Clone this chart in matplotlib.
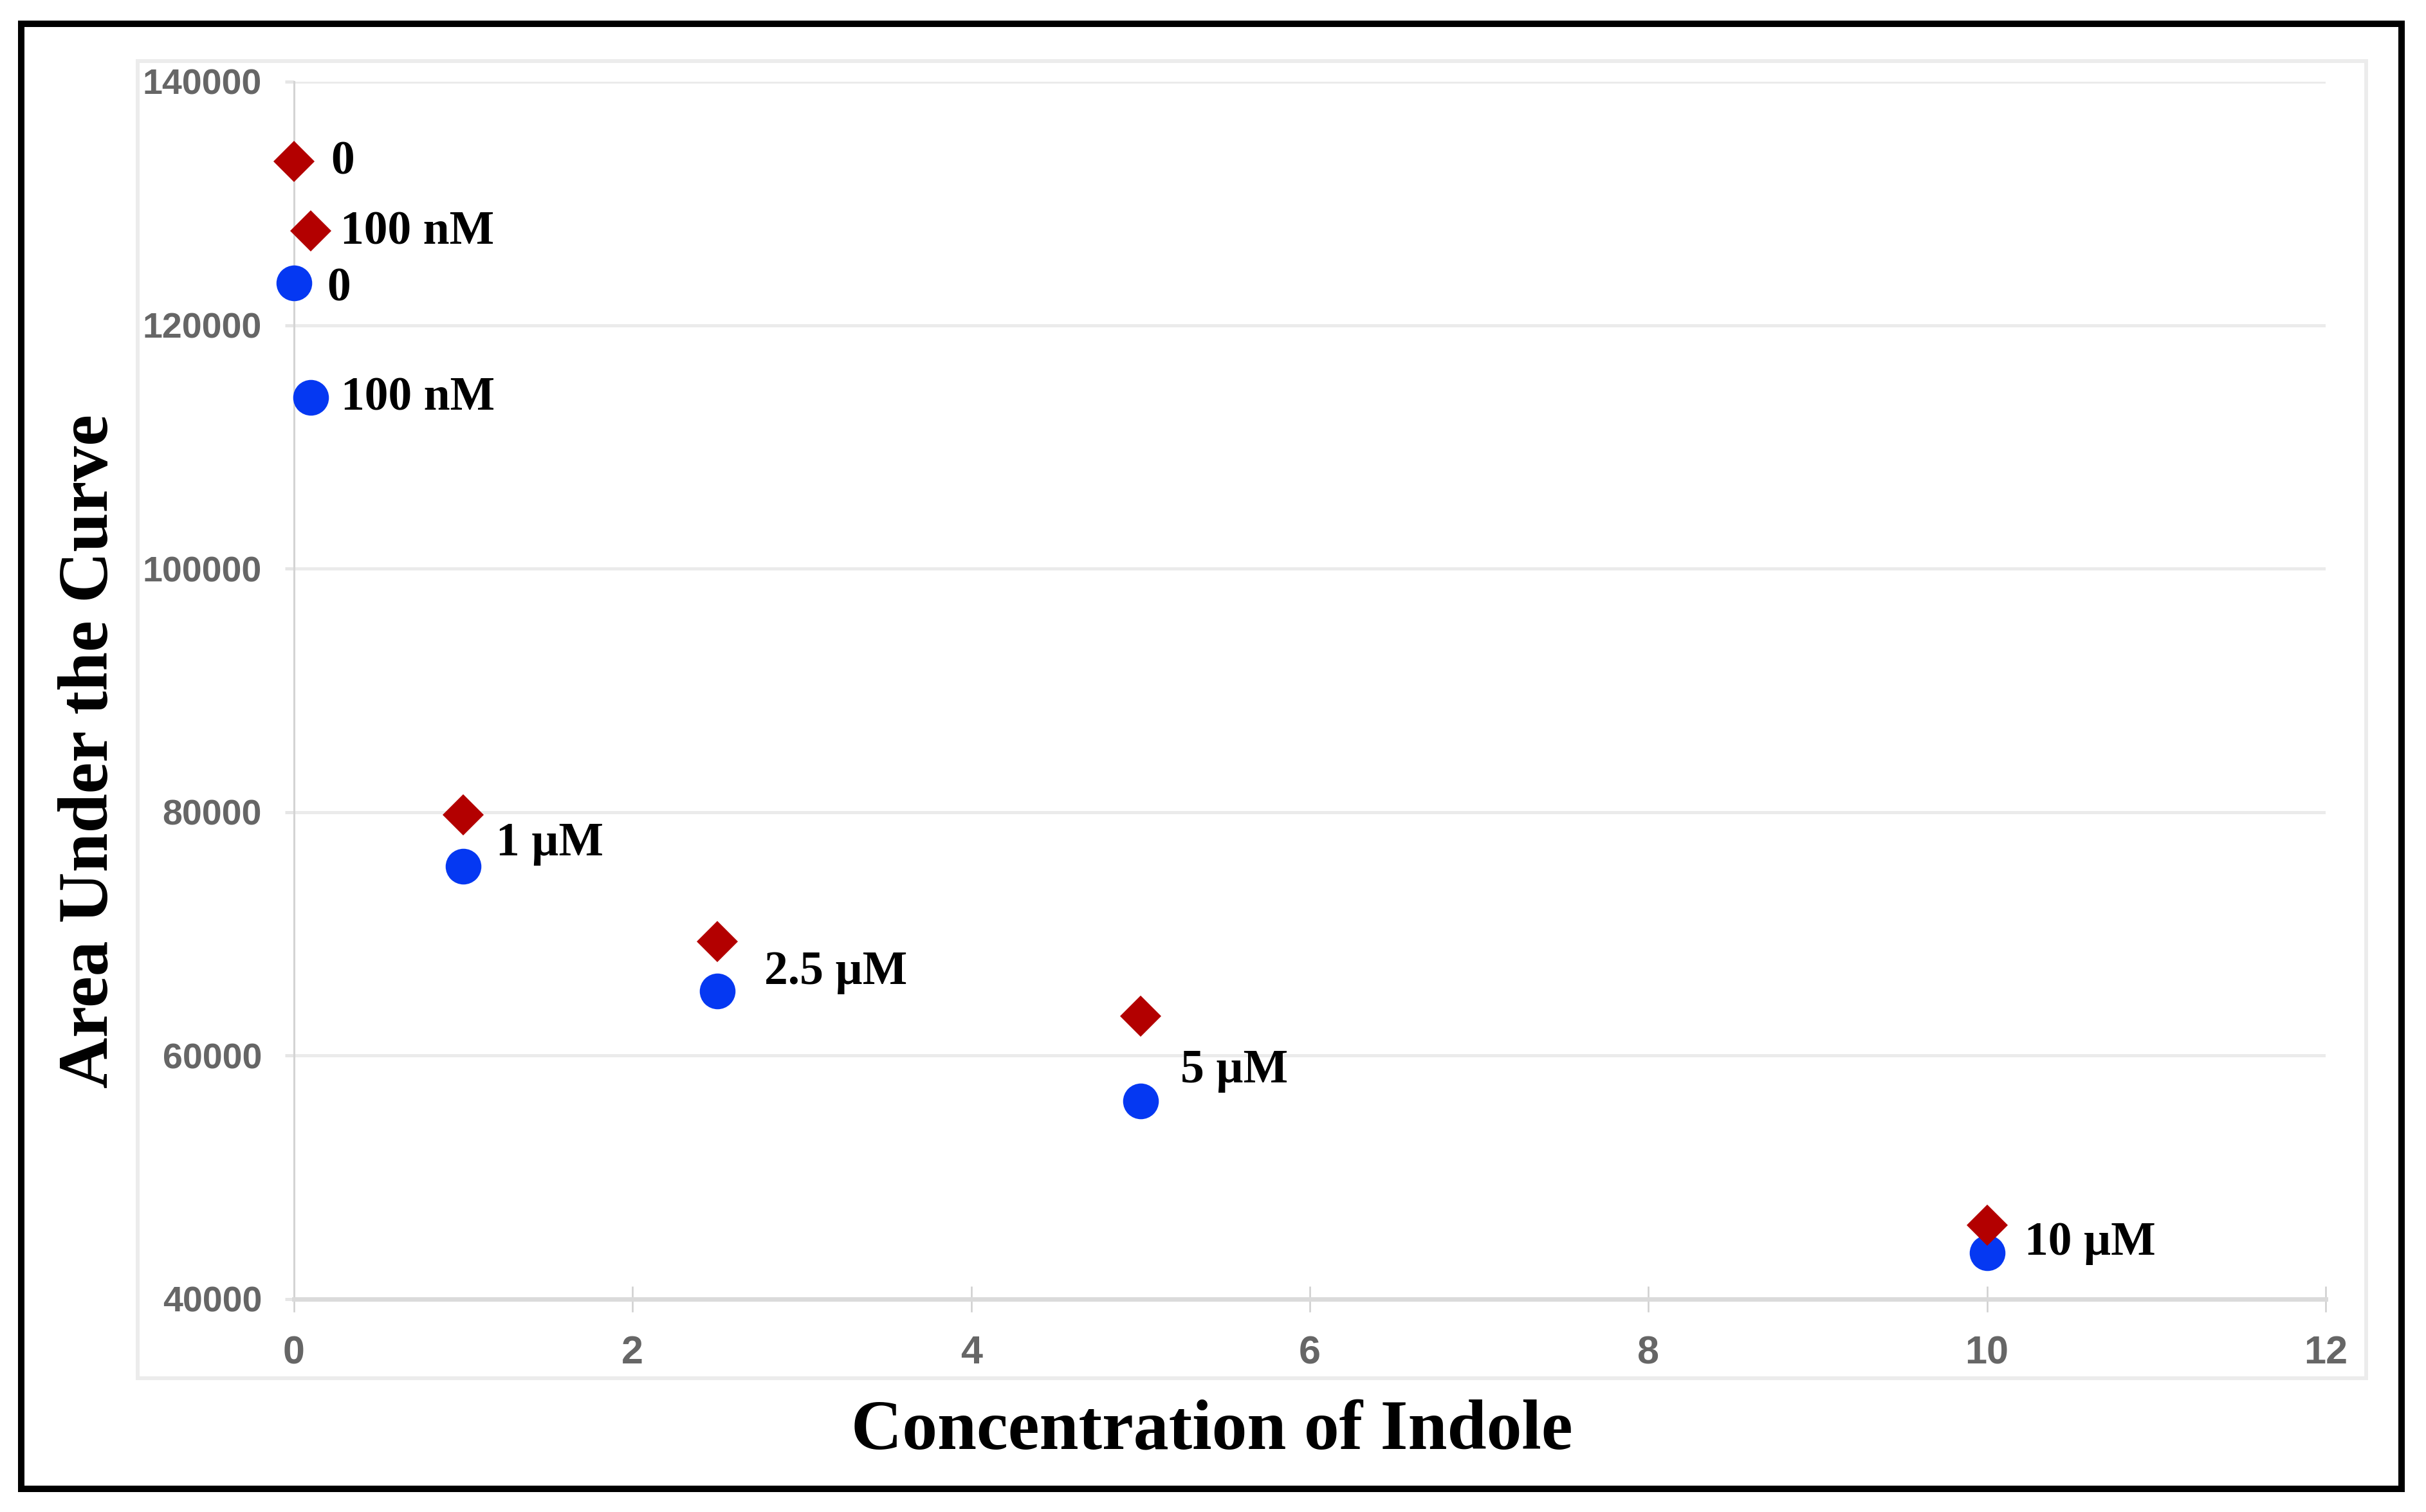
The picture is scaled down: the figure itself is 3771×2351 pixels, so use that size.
import matplotlib
matplotlib.use("Agg")
import matplotlib.pyplot as plt
from matplotlib.patches import Rectangle

# indole concentration (uM) and area under the curve for the two series
conc = [0, 0.1, 1, 2.5, 5, 10]
auc_red = [133450, 127750, 79780, 69370, 63240, 46070]
auc_blue = [123470, 114060, 75550, 65300, 56270, 43800]

red_labels = ["0", "100 nM"]
blue_labels = ["0", "100 nM", "1 \u00b5M", "2.5 \u00b5M", "5 \u00b5M", "10 \u00b5M"]

x_ticks = [0, 2, 4, 6, 8, 10, 12]
y_ticks = [40000, 60000, 80000, 100000, 120000, 140000]

# label offsets in pixels (dx, dy) from the marker they belong to
red_offsets = [(57, -20), (46, -21)]
blue_offsets = [(51, -28), (47, -19), (51, 17), (73, 11), (62, 29), (58, -3)]

RED = "#b30000"
BLUE = "#0538f2"
SERIF = "Liberation Serif"
SANS = "Liberation Sans"


def draw_frames(fig):
	# light gray chart box
	fig.patches.append(Rectangle((0.0567, 0.0885), 0.9753 - 0.0567, 0.9596 - 0.0885,
		transform=fig.transFigure, fill=False, edgecolor="#ececec", linewidth=4.3))
	# thick black outer border
	fig.patches.append(Rectangle((0.00875, 0.0153), 0.98992 - 0.00875, 0.98426 - 0.0153,
		transform=fig.transFigure, fill=False, edgecolor="black", linewidth=7.2,
		joinstyle="miter"))


def main():
	fig = plt.figure(figsize=(37.71, 23.51), dpi=100)
	fig.patch.set_facecolor("white")
	draw_frames(fig)

	ax = fig.add_axes([0.1212, 0.1408, 0.8374, 0.8052])
	ax.set_xlim(0, 12)
	ax.set_ylim(40000, 140000)

	ax.yaxis.grid(True, color="#ebebeb", linewidth=3.6)
	ax.set_axisbelow(True)
	for side in ["top", "right"]:
		ax.spines[side].set_visible(False)
	ax.spines["left"].set_color("#d4d4d4")
	ax.spines["left"].set_linewidth(2.2)
	ax.spines["bottom"].set_color("#dadada")
	ax.spines["bottom"].set_linewidth(5)

	ax.set_xticks(x_ticks)
	ax.set_xticklabels([str(t) for t in x_ticks])
	ax.set_yticks(y_ticks)
	ax.set_yticklabels([str(t) for t in y_ticks])
	ax.tick_params(axis="x", direction="inout", length=29, width=1.8, color="#cfcfcf",
		pad=26, labelsize=44, labelcolor="#666666")
	ax.tick_params(axis="y", direction="out", length=10, width=3.6, color="#e6e6e6",
		pad=26, labelsize=40, labelcolor="#666666")
	for lab in ax.get_xticklabels() + ax.get_yticklabels():
		lab.set_fontfamily(SANS)
		lab.set_fontweight("bold")

	ax.plot(conc, auc_blue, linestyle="none", marker="o", markersize=40,
		markerfacecolor=BLUE, markeredgewidth=0, clip_on=False, zorder=3)
	ax.plot(conc, auc_red, linestyle="none", marker="D", markersize=33,
		markerfacecolor=RED, markeredgewidth=0, clip_on=False, zorder=4)

	for i in range(len(red_labels)):
		ax.annotate(red_labels[i], xy=(conc[i], auc_red[i]), xytext=red_offsets[i],
			textcoords="offset pixels", ha="left", va="baseline",
			fontfamily=SERIF, fontweight="bold", fontsize=53, color="black")
	for i in range(len(blue_labels)):
		ax.annotate(blue_labels[i], xy=(conc[i], auc_blue[i]), xytext=blue_offsets[i],
			textcoords="offset pixels", ha="left", va="baseline",
			fontfamily=SERIF, fontweight="bold", fontsize=53, color="black")

	fig.text(0.4996, 0.0417, "Concentration of Indole", ha="center", va="baseline",
		fontfamily=SERIF, fontweight="bold", fontsize=79)
	fig.text(167 / 3771, 0.5032, "Area Under the Curve", ha="center", va="baseline",
		rotation=90, rotation_mode="anchor",
		fontfamily=SERIF, fontweight="bold", fontsize=79)

	fig.savefig("out.png", dpi=100, facecolor="white")


if __name__ == "__main__":
	main()
